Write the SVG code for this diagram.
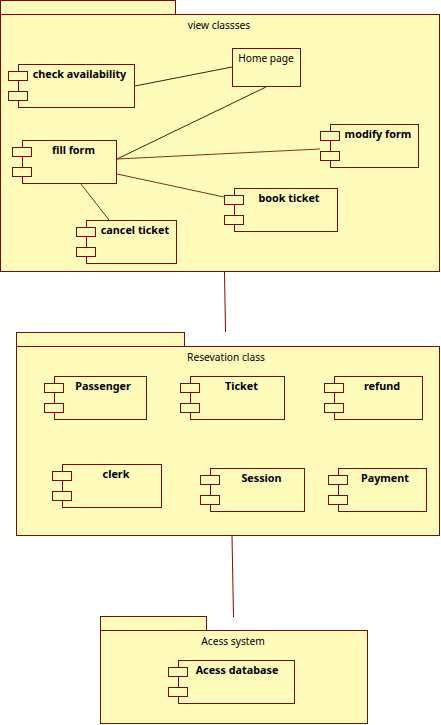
<svg xmlns="http://www.w3.org/2000/svg" width="441" height="725" viewBox="0 0 441 725">
<style>
rect{fill:#fffbbb;stroke:#7b0a0a;stroke-width:1}
text{font-family:"Noto Sans","DejaVu Sans",sans-serif;text-anchor:middle;fill:#000}
.t{font-size:10.2px}
.n{font-size:10.8px;font-weight:700}
.c line{stroke-width:1;fill:none}
.d{stroke:#2f2a10}
.r{stroke:#7b0a0a}
.m{stroke:#7a3020}
</style>
<rect x="-10" y="-10" width="461" height="745" style="fill:#fff;stroke:none"/>
<g id="pkg-view"><rect x="0.5" y="0.5" width="175" height="14"/><rect x="0.5" y="14.5" width="439" height="257"/><text class="t" x="219" y="29">view classses</text></g>
<g id="pkg-reservation"><rect x="16.5" y="332.5" width="168" height="14"/><rect x="16.5" y="346.5" width="423" height="189"/><text class="t" x="226" y="361">Resevation class</text></g>
<g id="pkg-access"><rect x="100.5" y="616.5" width="106" height="14"/><rect x="100.5" y="630.5" width="267" height="93"/><text class="t" x="233" y="645">Acess system</text></g>
<g class="c" id="connectors">
<line class="d" x1="135" y1="86" x2="232" y2="67"/>
<line class="d" x1="117" y1="159" x2="266" y2="87"/>
<line class="m" x1="117" y1="159" x2="320" y2="149"/>
<line class="m" x1="117" y1="174" x2="224" y2="197"/>
<line class="m" x1="81" y1="184" x2="109" y2="220"/>
<line class="r" x1="224.5" y1="272" x2="225.5" y2="332"/>
<line class="r" x1="232" y1="536" x2="233.500" y2="617"/>
</g>
<g id="check-availability"><rect x="18.5" y="64.5" width="116" height="43"/><rect x="8.5" y="71.500" width="19" height="9"/><rect x="8.5" y="91.500" width="19" height="9"/><text class="n" x="79.500" y="78">check availability</text></g>
<g id="home-page"><rect x="232.5" y="48.5" width="68" height="38"/><text class="t" x="266" y="62">Home page</text></g>
<g id="fill-form"><rect x="22.5" y="140.5" width="94" height="43"/><rect x="12.5" y="147.500" width="19" height="9"/><rect x="12.5" y="167.500" width="19" height="9"/><text class="n" x="73.500" y="154">fill form</text></g>
<g id="modify-form"><rect x="330.5" y="124.5" width="88" height="43"/><rect x="320.5" y="131.500" width="19" height="9"/><rect x="320.5" y="151.500" width="19" height="9"/><text class="n" x="378" y="138">modify form</text></g>
<g id="book-ticket"><rect x="234.5" y="188.5" width="103" height="43"/><rect x="224.5" y="195.500" width="19" height="9"/><rect x="224.5" y="215.500" width="19" height="9"/><text class="n" x="289" y="202">book ticket</text></g>
<g id="cancel-ticket"><rect x="86.5" y="220.5" width="90" height="43"/><rect x="76.5" y="227.500" width="19" height="9"/><rect x="76.5" y="247.500" width="19" height="9"/><text class="n" x="135" y="234">cancel ticket</text></g>
<g id="passenger"><rect x="54.5" y="376.5" width="92" height="43"/><rect x="44.5" y="383.500" width="19" height="9"/><rect x="44.5" y="403.500" width="19" height="9"/><text class="n" x="103" y="390">Passenger</text></g>
<g id="ticket"><rect x="190.5" y="376.5" width="94" height="43"/><rect x="180.5" y="383.500" width="19" height="9"/><rect x="180.5" y="403.500" width="19" height="9"/><text class="n" x="241.500" y="390">Ticket</text></g>
<g id="refund"><rect x="334.5" y="376.5" width="88" height="43"/><rect x="324.5" y="383.500" width="19" height="9"/><rect x="324.5" y="403.500" width="19" height="9"/><text class="n" x="382" y="390">refund</text></g>
<g id="clerk"><rect x="62.5" y="464.5" width="99" height="43"/><rect x="52.5" y="471.500" width="19" height="9"/><rect x="52.5" y="491.500" width="19" height="9"/><text class="n" x="116" y="478">clerk</text></g>
<g id="session"><rect x="210.5" y="468.5" width="94" height="43"/><rect x="200.5" y="475.500" width="19" height="9"/><rect x="200.5" y="495.500" width="19" height="9"/><text class="n" x="261.500" y="482">Session</text></g>
<g id="payment"><rect x="338.5" y="468.5" width="88" height="43"/><rect x="328.5" y="475.500" width="19" height="9"/><rect x="328.5" y="495.500" width="19" height="9"/><text class="n" x="385" y="482">Payment</text></g>
<g id="acess-database"><rect x="178.5" y="660.5" width="116" height="43"/><rect x="168.5" y="667.500" width="19" height="9"/><rect x="168.5" y="687.500" width="19" height="9"/><text class="n" x="237" y="674">Acess database</text></g>
</svg>
